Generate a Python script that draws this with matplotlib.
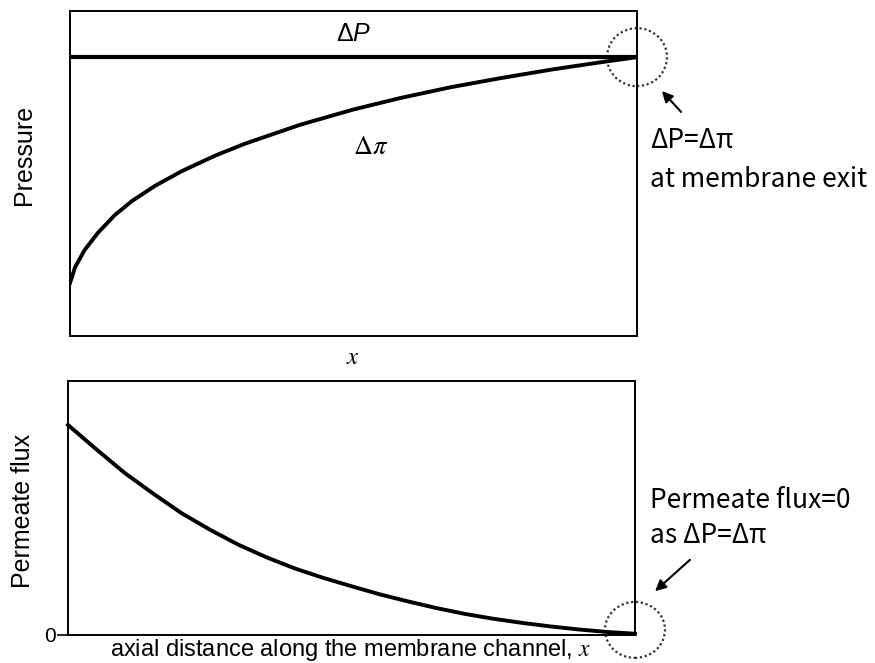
import matplotlib
matplotlib.use("Agg")
import matplotlib.pyplot as plt
from matplotlib.patches import Ellipse

plt.rcParams['font.family'] = ['Liberation Sans', 'DejaVu Sans']
plt.rcParams['mathtext.fontset'] = 'custom'
plt.rcParams['mathtext.rm'] = 'Liberation Sans'
plt.rcParams['mathtext.it'] = 'Liberation Sans:italic'

# pressure profiles along the channel (normalised)
x_osm = [0.0, 0.009, 0.026, 0.049, 0.079, 0.109, 0.150, 0.198, 0.256,
         0.309, 0.406, 0.50, 0.582, 0.67, 0.758, 0.85, 0.935, 1.0]
osmotic = [0.163, 0.212, 0.265, 0.317, 0.372, 0.415, 0.462, 0.508, 0.555,
           0.592, 0.650, 0.697, 0.732, 0.765, 0.793, 0.820, 0.842, 0.858]
x_dp = [0.0, 1.0]
applied = [0.858, 0.858]

# permeate flux profile (normalised)
x_flux = [0.0, 0.05, 0.10, 0.15, 0.20, 0.25, 0.30, 0.35, 0.40, 0.45, 0.50,
          0.55, 0.60, 0.65, 0.70, 0.75, 0.80, 0.85, 0.90, 0.95, 1.0]
flux = [0.827, 0.731, 0.638, 0.557, 0.480, 0.415, 0.356, 0.306, 0.262,
        0.225, 0.192, 0.160, 0.132, 0.106, 0.083, 0.064, 0.048, 0.034,
        0.022, 0.012, 0.005]

W, H = 875, 663
fig = plt.figure(figsize=(W / 100, H / 100), dpi=100)

def px_axes(l, t, r, b):
    return fig.add_axes([l / W, 1 - b / H, (r - l) / W, (b - t) / H])

ax1 = px_axes(70, 11, 637, 336)
ax2 = px_axes(68, 381, 635, 635)

for ax in (ax1, ax2):
    ax.set_xlim(0, 1)
    ax.set_ylim(0, 1)
    for sp in ax.spines.values():
        sp.set_linewidth(1.4)
    ax.set_xticks([])

ax1.set_yticks([])
ax1.plot(x_dp, applied, color='black', lw=3.0, solid_capstyle='butt')
ax1.plot(x_osm, osmotic, color='black', lw=2.8, solid_joinstyle='round')
ax1.text(0.5, 0.93, r'$\Delta P$', ha='center', va='center', fontsize=18)
ax1.text(0.53, 0.58, r'$\Delta\pi$', ha='center', va='center', fontsize=19,
         math_fontfamily='stix')

ax2.plot(x_flux, flux, color='black', lw=2.8, clip_on=False,
         solid_joinstyle='round')
ax2.set_yticks([0])
ax2.set_yticklabels(['0'])
ax2.tick_params(axis='y', direction='inout', length=16, width=1.2,
                labelsize=15, pad=1)

# dotted circles marking the channel exit
for ax, yc, (w, h) in ((ax1, 0.858, (60 / 567, 58 / 325)),
                       (ax2, 0.02, (60 / 567, 56 / 254))):
    ax.add_patch(Ellipse((1.0, yc), w, h, fill=False, ls=(0, (1, 1.2)),
                         lw=1.6, ec='#333333', clip_on=False))

fig.text(24 / W, 1 - 155 / H, 'Pressure', rotation=90, ha='center',
         va='center', fontsize=18)
fig.text(23 / W, 1 - 511 / H, 'Permeate flux', rotation=90, ha='center',
         va='center', fontsize=18)
fig.text(353 / W, 1 - 357 / H, r'$x$', ha='center', va='center',
         fontsize=18, math_fontfamily='stix')
fig.text(351 / W, 1 - 650 / H, r'axial distance along the membrane channel, $x$',
         ha='center', va='center', fontsize=17, math_fontfamily='stix')

note_font = ['Noto Sans CJK KR', 'DejaVu Sans']
fig.text(650 / W, 1 - 148 / H, 'ΔP=Δπ', ha='left', va='baseline',
         fontsize=19, family=note_font)
fig.text(650 / W, 1 - 187 / H, 'at membrane exit', ha='left', va='baseline',
         fontsize=19, family=note_font)
fig.text(650 / W, 1 - 508 / H, 'Permeate flux=0', ha='left', va='baseline',
         fontsize=19, family=note_font)
fig.text(650 / W, 1 - 543 / H, 'as ΔP=Δπ', ha='left', va='baseline',
         fontsize=19, family=note_font)

ax1.annotate('', xy=(660 / W, 1 - 89 / H), xytext=(683 / W, 1 - 114 / H),
             xycoords='figure fraction', textcoords='figure fraction',
             arrowprops=dict(arrowstyle='-|>', color='black', lw=1.5,
                             mutation_scale=16))
ax2.annotate('', xy=(653 / W, 1 - 593 / H), xytext=(692 / W, 1 - 558 / H),
             xycoords='figure fraction', textcoords='figure fraction',
             arrowprops=dict(arrowstyle='-|>', color='black', lw=1.5,
                             mutation_scale=16))

fig.savefig('out.png', dpi=100)
